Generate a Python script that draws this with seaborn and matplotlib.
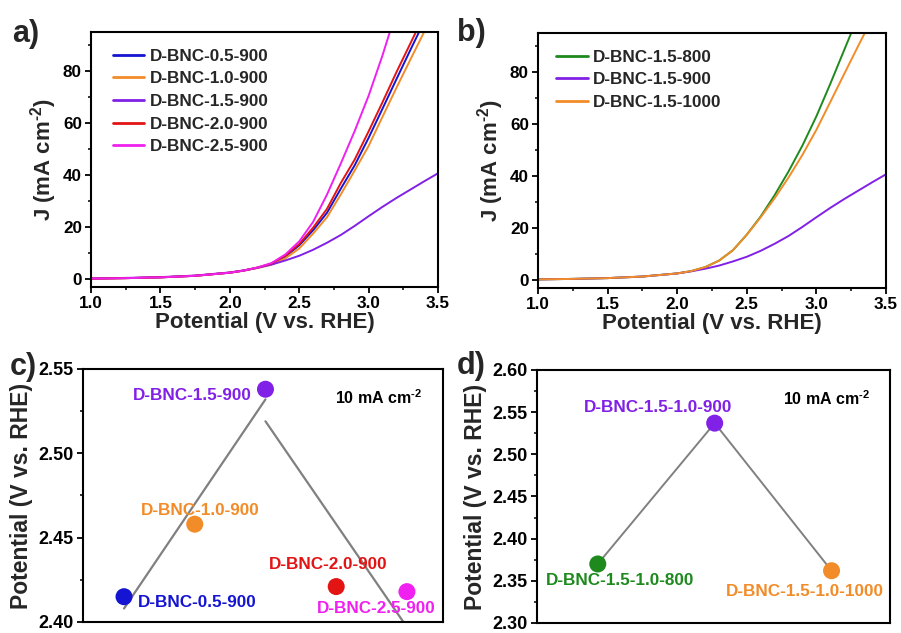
import numpy as np
import pandas as pd
import matplotlib
matplotlib.use("Agg")
import matplotlib.pyplot as plt
from matplotlib.ticker import MultipleLocator, NullLocator, FormatStrFormatter
import seaborn as sns

# ---------------- data ----------------
potential = [1.0, 1.25, 1.5, 1.75, 2.0, 2.1, 2.2, 2.3, 2.4, 2.5, 2.6, 2.7,
             2.8, 2.9, 3.0, 3.1, 3.2, 3.3, 3.4, 3.5]

# LSV current densities (mA cm^-2), series of the ratio study (900 C)
j_05_900 = [0.2, 0.4, 0.7, 1.3, 2.5, 3.3, 4.4, 5.9, 8.7, 13.0, 18.8, 25.5,
            34.8, 43.8, 54.3, 65.5, 76.8, 88.0, 99.0, 110.0]
j_10_900 = [0.2, 0.4, 0.7, 1.3, 2.5, 3.3, 4.3, 5.6, 8.0, 11.8, 17.5, 23.8,
            32.6, 41.8, 51.2, 62.4, 73.5, 84.3, 95.0, 106.0]
j_15_900 = [0.3, 0.5, 0.8, 1.4, 2.6, 3.4, 4.4, 5.6, 7.2, 9.0, 11.3, 14.0,
            17.0, 20.5, 24.2, 27.8, 31.2, 34.4, 37.6, 40.7]
j_20_900 = [0.2, 0.4, 0.7, 1.3, 2.5, 3.3, 4.5, 6.0, 9.0, 13.5, 19.8, 27.0,
            37.0, 46.0, 56.8, 68.0, 79.5, 90.5, 101.5, 112.5]
j_25_900 = [0.2, 0.4, 0.7, 1.3, 2.5, 3.3, 4.5, 6.2, 9.5, 14.5, 22.0, 32.5,
            44.5, 57.0, 70.5, 86.0, 103.0, 120.0, 137.0, 154.0]

# temperature study (ratio 1.5)
j_15_800 = [0.3, 0.5, 0.8, 1.4, 2.6, 3.5, 5.0, 7.5, 11.5, 17.5, 24.5, 32.7,
            41.8, 51.8, 63.0, 75.5, 88.5, 101.5, 114.5, 127.5]
j_15_1000 = [0.3, 0.5, 0.8, 1.4, 2.6, 3.5, 5.0, 7.5, 11.5, 17.5, 24.2, 31.5,
             39.5, 48.2, 57.8, 68.5, 79.3, 90.0, 100.5, 111.0]

labels_a = ["D-BNC-0.5-900", "D-BNC-1.0-900", "D-BNC-1.5-900",
            "D-BNC-2.0-900", "D-BNC-2.5-900"]
labels_b = ["D-BNC-1.5-800", "D-BNC-1.5-900", "D-BNC-1.5-1000"]

# potential at 10 mA cm^-2 (V vs. RHE)
ratio_pos = [1, 2, 3, 4, 5]
ratio_names = ["D-BNC-0.5-900", "D-BNC-1.0-900", "D-BNC-1.5-900",
               "D-BNC-2.0-900", "D-BNC-2.5-900"]
ratio_e10 = [2.415, 2.458, 2.538, 2.421, 2.418]
# guide lines drawn across the ratio series
guide1_x = [1.0, 3.0]
guide1_y = [2.408, 2.532]
guide2_x = [3.0, 4.95]
guide2_y = [2.519, 2.400]

temp_pos = [1, 2, 3]
temp_names = ["D-BNC-1.5-1.0-800", "D-BNC-1.5-1.0-900", "D-BNC-1.5-1.0-1000"]
temp_e10 = [2.370, 2.537, 2.362]

# ---------------- style ----------------
C_BLUE = "#1414D2"
C_ORANGE = "#F28C28"
C_PURPLE = "#8120E6"
C_RED = "#E21414"
C_MAGENTA = "#F020F0"
C_GREEN = "#1E8A1E"
C_GRAY = "#808080"

sns.set_theme(style="ticks")
plt.rcParams["font.family"] = ["Liberation Sans", "DejaVu Sans"]
plt.rcParams["font.weight"] = "bold"
plt.rcParams["axes.labelweight"] = "bold"
plt.rcParams["axes.unicode_minus"] = False
plt.rcParams["mathtext.fontset"] = "custom"
plt.rcParams["mathtext.rm"] = "Liberation Sans:bold"
plt.rcParams["mathtext.bf"] = "Liberation Sans:bold"
plt.rcParams["mathtext.it"] = "Liberation Sans:bold"
plt.rcParams["mathtext.default"] = "bf"
plt.rcParams["axes.linewidth"] = 1.5
plt.rcParams["xtick.major.width"] = 1.3
plt.rcParams["ytick.major.width"] = 1.3
plt.rcParams["xtick.minor.width"] = 1.1
plt.rcParams["ytick.minor.width"] = 1.1
plt.rcParams["xtick.major.size"] = 4.5
plt.rcParams["ytick.major.size"] = 4.5
plt.rcParams["xtick.minor.size"] = 2.5
plt.rcParams["ytick.minor.size"] = 2.5
plt.rcParams["xtick.direction"] = "out"
plt.rcParams["ytick.direction"] = "out"
plt.rcParams["xtick.color"] = "black"
plt.rcParams["ytick.color"] = "black"
plt.rcParams["axes.edgecolor"] = "black"

W, H = 901, 633
fig = plt.figure(figsize=(W / 100, H / 100), dpi=100)


def px_axes(left, top, right, bottom):
    return fig.add_axes([left / W, 1 - bottom / H, (right - left) / W, (bottom - top) / H])


ax_a = px_axes(91, 32, 438, 287)
ax_b = px_axes(538, 33, 886, 288)
ax_c = px_axes(83, 369, 443, 622)
ax_d = px_axes(537, 370, 890, 623)

TEXT_FS = 12.3
UNIT = r"(mA cm$^{\text{-}2}$)"


def style_lsv(ax):
    ax.set_xlim(1.0, 3.5)
    ax.set_ylim(-3, 95)
    ax.xaxis.set_major_locator(MultipleLocator(0.5))
    ax.xaxis.set_minor_locator(MultipleLocator(0.25))
    ax.yaxis.set_major_locator(MultipleLocator(20))
    ax.yaxis.set_minor_locator(MultipleLocator(10))
    ax.tick_params(which="both", top=False, right=False, labelsize=12.3, pad=2)
    for t in ax.get_xticklabels() + ax.get_yticklabels():
        t.set_fontweight("bold")
    ax.set_xlabel("Potential (V vs. RHE)", fontsize=16, fontweight="bold", labelpad=1)
    ax.set_ylabel("J " + UNIT, fontsize=16, fontweight="bold", labelpad=3)
    for s in ax.spines.values():
        s.set_visible(True)


def lsv_legend(ax, x0):
    leg = ax.legend(loc="upper left", bbox_to_anchor=(x0, 0.935), frameon=False,
                    handlelength=1.85, handletextpad=0.3,
                    labelspacing=0.45, borderpad=0, borderaxespad=0,
                    prop={"weight": "bold", "size": TEXT_FS})
    for line in leg.get_lines():
        line.set_linewidth(2.0)


# ---- panel a ----
df_a = pd.DataFrame({"potential": potential * 5,
                     "J": j_05_900 + j_10_900 + j_15_900 + j_20_900 + j_25_900,
                     "sample": sum([[n] * len(potential) for n in labels_a], [])})
sns.lineplot(data=df_a, x="potential", y="J", hue="sample", hue_order=labels_a,
             palette=[C_BLUE, C_ORANGE, C_PURPLE, C_RED, C_MAGENTA],
             linewidth=1.4, ax=ax_a, sort=False, estimator=None)
style_lsv(ax_a)
lsv_legend(ax_a, 0.063)

# ---- panel b ----
df_b = pd.DataFrame({"potential": potential * 3,
                     "J": j_15_800 + j_15_900 + j_15_1000,
                     "sample": sum([[n] * len(potential) for n in labels_b], [])})
sns.lineplot(data=df_b, x="potential", y="J", hue="sample", hue_order=labels_b,
             palette=[C_GREEN, C_PURPLE, C_ORANGE],
             linewidth=1.4, ax=ax_b, sort=False, estimator=None)
style_lsv(ax_b)
lsv_legend(ax_b, 0.052)


def style_overpotential(ax, ylo, yhi, xlo, xhi):
    ax.set_xlim(xlo, xhi)
    ax.set_ylim(ylo, yhi)
    ax.xaxis.set_major_locator(NullLocator())
    ax.xaxis.set_minor_locator(NullLocator())
    ax.yaxis.set_major_locator(MultipleLocator(0.05))
    ax.yaxis.set_minor_locator(MultipleLocator(0.025))
    ax.tick_params(which="both", top=False, right=False, labelsize=13, pad=2)
    ax.yaxis.set_major_formatter(FormatStrFormatter("%.2f"))
    for t in ax.get_yticklabels():
        t.set_fontweight("bold")
    ax.set_xlabel("")
    ax.set_ylabel("Potential (V vs. RHE)", fontsize=16.5, fontweight="bold", labelpad=4)
    ax.text(0.82, 0.885, r"10 mA cm$^{\text{-}2}$", transform=ax.transAxes,
            ha="center", va="center", fontsize=11.5, fontweight="bold", color="black")


# ---- panel c ----
c_colors = [C_BLUE, C_ORANGE, C_PURPLE, C_RED, C_MAGENTA]
sns.lineplot(x=guide1_x, y=guide1_y, color=C_GRAY, linewidth=1.6, ax=ax_c)
sns.lineplot(x=guide2_x, y=guide2_y, color=C_GRAY, linewidth=1.6, ax=ax_c)
df_c = pd.DataFrame({"pos": ratio_pos, "E": ratio_e10, "name": ratio_names})
sns.scatterplot(data=df_c, x="pos", y="E", hue="name", hue_order=ratio_names,
                palette=c_colors, s=150, edgecolor="none", legend=False, ax=ax_c, zorder=3)
c_offsets = [(73, -6), (6, 14), (-73, -6), (-8, 22), (-31, -17)]
for x, y, name, col, (dx, dy) in zip(ratio_pos, ratio_e10, ratio_names, c_colors, c_offsets):
    ax_c.annotate(name, (x, y), xytext=(dx, dy), textcoords="offset pixels",
                  ha="center", va="center", color=col, fontsize=TEXT_FS, fontweight="bold",
                  zorder=4)
style_overpotential(ax_c, 2.40, 2.55, 0.42, 5.51)

# ---- panel d ----
d_colors = [C_GREEN, C_PURPLE, C_ORANGE]
sns.lineplot(x=temp_pos, y=temp_e10, color=C_GRAY, linewidth=1.4, ax=ax_d)
df_d = pd.DataFrame({"pos": temp_pos, "E": temp_e10, "name": temp_names})
sns.scatterplot(data=df_d, x="pos", y="E", hue="name", hue_order=temp_names,
                palette=d_colors, s=150, edgecolor="none", legend=False, ax=ax_d, zorder=3)
d_offsets = [(22, -17), (-57, 16), (-27, -21)]
for x, y, name, col, (dx, dy) in zip(temp_pos, temp_e10, temp_names, d_colors, d_offsets):
    ax_d.annotate(name, (x, y), xytext=(dx, dy), textcoords="offset pixels",
                  ha="center", va="center", color=col, fontsize=TEXT_FS, fontweight="bold",
                  zorder=4)
style_overpotential(ax_d, 2.30, 2.60, 0.48, 3.5)

# panel tags
for tag, x, y in [("a)", 12, 34), ("b)", 457, 33), ("c)", 10, 367), ("d)", 457, 366)]:
    fig.text(x / W, 1 - y / H, tag, ha="left", va="center", fontsize=22, fontweight="bold")

fig.savefig("out.png", dpi=100)
